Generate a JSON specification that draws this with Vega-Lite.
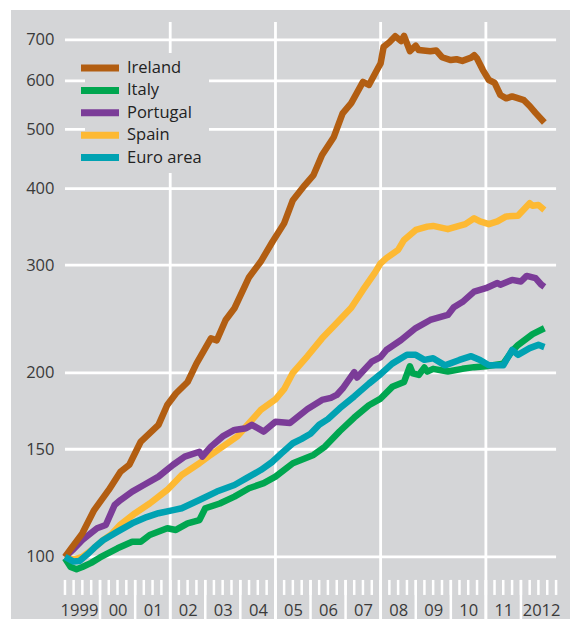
{
  "$schema": "https://vega.github.io/schema/vega-lite/v6.json",
  "width": 559,
  "height": 609,
  "autosize": {"type": "none"},
  "padding": {"left": 11, "top": 10, "right": 0, "bottom": 0},
  "background": "white",
  "config": {"view": {"fill": "#d4d5d7", "stroke": null}, "font": "Open Sans"},
  "datasets": {
    "hgrid": [{"v": 100}, {"v": 150}, {"v": 200}, {"v": 300}, {"v": 400}, {"v": 500}, {"v": 600}, {"v": 700}],
    "vgrid": [{"d": "2002-01-01"}, {"d": "2005-01-01"}, {"d": "2008-01-01"}, {"d": "2011-01-01"}],
    "yticks": [{"d": "2000-01-01"}, {"d": "2001-01-01"}, {"d": "2002-01-01"}, {"d": "2003-01-01"}, {"d": "2004-01-01"}, {"d": "2005-01-01"}, {"d": "2006-01-01"}, {"d": "2007-01-01"}, {"d": "2008-01-01"}, {"d": "2009-01-01"}, {"d": "2010-01-01"}, {"d": "2011-01-01"}, {"d": "2012-01-01"}],
    "qticks": [
      {"d": "1999-01-01"}, {"d": "1999-04-01"}, {"d": "1999-07-01"}, {"d": "1999-10-01"},
      {"d": "2000-01-01"}, {"d": "2000-04-01"}, {"d": "2000-07-01"}, {"d": "2000-10-01"},
      {"d": "2001-01-01"}, {"d": "2001-04-01"}, {"d": "2001-07-01"}, {"d": "2001-10-01"},
      {"d": "2002-01-01"}, {"d": "2002-04-01"}, {"d": "2002-07-01"}, {"d": "2002-10-01"},
      {"d": "2003-01-01"}, {"d": "2003-04-01"}, {"d": "2003-07-01"}, {"d": "2003-10-01"},
      {"d": "2004-01-01"}, {"d": "2004-04-01"}, {"d": "2004-07-01"}, {"d": "2004-10-01"},
      {"d": "2005-01-01"}, {"d": "2005-04-01"}, {"d": "2005-07-01"}, {"d": "2005-10-01"},
      {"d": "2006-01-01"}, {"d": "2006-04-01"}, {"d": "2006-07-01"}, {"d": "2006-10-01"},
      {"d": "2007-01-01"}, {"d": "2007-04-01"}, {"d": "2007-07-01"}, {"d": "2007-10-01"},
      {"d": "2008-01-01"}, {"d": "2008-04-01"}, {"d": "2008-07-01"}, {"d": "2008-10-01"},
      {"d": "2009-01-01"}, {"d": "2009-04-01"}, {"d": "2009-07-01"}, {"d": "2009-10-01"},
      {"d": "2010-01-01"}, {"d": "2010-04-01"}, {"d": "2010-07-01"}, {"d": "2010-10-01"},
      {"d": "2011-01-01"}, {"d": "2011-04-01"}, {"d": "2011-07-01"}, {"d": "2011-10-01"},
      {"d": "2012-01-01"}, {"d": "2012-04-01"}, {"d": "2012-07-01"}, {"d": "2012-10-01"},
      {"d": "2013-01-01"}
    ],
    "prices": [
      {"country": "Spain", "date": "1999-01-01", "value": 100},
      {"country": "Spain", "date": "1999-04-01", "value": 99},
      {"country": "Spain", "date": "1999-07-01", "value": 100},
      {"country": "Spain", "date": "1999-10-01", "value": 102.5},
      {"country": "Spain", "date": "2000-02-01", "value": 106.5},
      {"country": "Spain", "date": "2000-05-01", "value": 109},
      {"country": "Spain", "date": "2000-08-01", "value": 113},
      {"country": "Spain", "date": "2001-01-01", "value": 117.9},
      {"country": "Spain", "date": "2001-06-01", "value": 122.3},
      {"country": "Spain", "date": "2001-12-01", "value": 128.7},
      {"country": "Spain", "date": "2002-05-01", "value": 136.1},
      {"country": "Spain", "date": "2002-11-01", "value": 142.3},
      {"country": "Spain", "date": "2003-02-01", "value": 145.9},
      {"country": "Spain", "date": "2003-07-01", "value": 151.5},
      {"country": "Spain", "date": "2003-12-01", "value": 157.4},
      {"country": "Spain", "date": "2004-03-01", "value": 163.4},
      {"country": "Spain", "date": "2004-08-01", "value": 173.9},
      {"country": "Spain", "date": "2005-01-01", "value": 181},
      {"country": "Spain", "date": "2005-04-01", "value": 188},
      {"country": "Spain", "date": "2005-07-01", "value": 200},
      {"country": "Spain", "date": "2005-12-01", "value": 213},
      {"country": "Spain", "date": "2006-05-01", "value": 227.7},
      {"country": "Spain", "date": "2006-10-01", "value": 241.3},
      {"country": "Spain", "date": "2007-03-01", "value": 255.4},
      {"country": "Spain", "date": "2007-07-01", "value": 273.2},
      {"country": "Spain", "date": "2007-11-01", "value": 291.3},
      {"country": "Spain", "date": "2008-01-01", "value": 302},
      {"country": "Spain", "date": "2008-03-01", "value": 308},
      {"country": "Spain", "date": "2008-07-01", "value": 317.6},
      {"country": "Spain", "date": "2008-09-01", "value": 329.8},
      {"country": "Spain", "date": "2009-01-01", "value": 342.4},
      {"country": "Spain", "date": "2009-05-01", "value": 346.7},
      {"country": "Spain", "date": "2009-07-01", "value": 347.6},
      {"country": "Spain", "date": "2009-12-01", "value": 343.4},
      {"country": "Spain", "date": "2010-03-01", "value": 346.7},
      {"country": "Spain", "date": "2010-06-01", "value": 350},
      {"country": "Spain", "date": "2010-09-01", "value": 357.7},
      {"country": "Spain", "date": "2010-11-01", "value": 353.6},
      {"country": "Spain", "date": "2011-02-01", "value": 350},
      {"country": "Spain", "date": "2011-05-01", "value": 353.6},
      {"country": "Spain", "date": "2011-08-01", "value": 360.3},
      {"country": "Spain", "date": "2011-12-01", "value": 361.2},
      {"country": "Spain", "date": "2012-04-01", "value": 378.6},
      {"country": "Spain", "date": "2012-05-01", "value": 375},
      {"country": "Spain", "date": "2012-07-01", "value": 376},
      {"country": "Spain", "date": "2012-09-01", "value": 369.2},
      {"country": "Italy", "date": "1999-01-01", "value": 99.5},
      {"country": "Italy", "date": "1999-03-01", "value": 96.3},
      {"country": "Italy", "date": "1999-05-01", "value": 95.5},
      {"country": "Italy", "date": "1999-07-01", "value": 96.3},
      {"country": "Italy", "date": "1999-10-01", "value": 97.8},
      {"country": "Italy", "date": "2000-01-01", "value": 99.8},
      {"country": "Italy", "date": "2000-07-01", "value": 103.3},
      {"country": "Italy", "date": "2000-12-01", "value": 105.9},
      {"country": "Italy", "date": "2001-03-01", "value": 105.9},
      {"country": "Italy", "date": "2001-06-01", "value": 108.6},
      {"country": "Italy", "date": "2001-12-01", "value": 111.4},
      {"country": "Italy", "date": "2002-03-01", "value": 110.7},
      {"country": "Italy", "date": "2002-07-01", "value": 113.5},
      {"country": "Italy", "date": "2002-11-01", "value": 114.9},
      {"country": "Italy", "date": "2003-01-01", "value": 120.1},
      {"country": "Italy", "date": "2003-06-01", "value": 122.3},
      {"country": "Italy", "date": "2003-11-01", "value": 125.5},
      {"country": "Italy", "date": "2004-04-01", "value": 129.5},
      {"country": "Italy", "date": "2004-09-01", "value": 132},
      {"country": "Italy", "date": "2005-01-01", "value": 135.3},
      {"country": "Italy", "date": "2005-07-01", "value": 142.3},
      {"country": "Italy", "date": "2006-02-01", "value": 146.8},
      {"country": "Italy", "date": "2006-06-01", "value": 151.5},
      {"country": "Italy", "date": "2006-11-01", "value": 160.5},
      {"country": "Italy", "date": "2007-04-01", "value": 169},
      {"country": "Italy", "date": "2007-09-01", "value": 177},
      {"country": "Italy", "date": "2008-01-01", "value": 181.5},
      {"country": "Italy", "date": "2008-05-01", "value": 189.7},
      {"country": "Italy", "date": "2008-09-01", "value": 193.2},
      {"country": "Italy", "date": "2008-11-01", "value": 205},
      {"country": "Italy", "date": "2008-12-01", "value": 199.5},
      {"country": "Italy", "date": "2009-02-01", "value": 198.4},
      {"country": "Italy", "date": "2009-04-01", "value": 204},
      {"country": "Italy", "date": "2009-05-01", "value": 200.9},
      {"country": "Italy", "date": "2009-07-01", "value": 203},
      {"country": "Italy", "date": "2009-12-01", "value": 201},
      {"country": "Italy", "date": "2010-05-01", "value": 203},
      {"country": "Italy", "date": "2010-09-01", "value": 204.3},
      {"country": "Italy", "date": "2011-01-01", "value": 205},
      {"country": "Italy", "date": "2011-07-01", "value": 207},
      {"country": "Italy", "date": "2011-10-01", "value": 217},
      {"country": "Italy", "date": "2011-12-01", "value": 222},
      {"country": "Italy", "date": "2012-05-01", "value": 231.4},
      {"country": "Italy", "date": "2012-09-01", "value": 236.5},
      {"country": "Portugal", "date": "1999-01-01", "value": 100},
      {"country": "Portugal", "date": "1999-04-01", "value": 103},
      {"country": "Portugal", "date": "1999-07-01", "value": 106.6},
      {"country": "Portugal", "date": "1999-12-01", "value": 111.4},
      {"country": "Portugal", "date": "2000-03-01", "value": 112.8},
      {"country": "Portugal", "date": "2000-06-01", "value": 121.6},
      {"country": "Portugal", "date": "2000-08-01", "value": 123.9},
      {"country": "Portugal", "date": "2000-12-01", "value": 127.9},
      {"country": "Portugal", "date": "2001-04-01", "value": 131.1},
      {"country": "Portugal", "date": "2001-09-01", "value": 135.3},
      {"country": "Portugal", "date": "2002-02-01", "value": 141.5},
      {"country": "Portugal", "date": "2002-06-01", "value": 145.9},
      {"country": "Portugal", "date": "2002-11-01", "value": 148.6},
      {"country": "Portugal", "date": "2002-12-01", "value": 145.9},
      {"country": "Portugal", "date": "2003-03-01", "value": 151.5},
      {"country": "Portugal", "date": "2003-07-01", "value": 157.4},
      {"country": "Portugal", "date": "2003-11-01", "value": 161.3},
      {"country": "Portugal", "date": "2004-03-01", "value": 162.3},
      {"country": "Portugal", "date": "2004-05-01", "value": 164.4},
      {"country": "Portugal", "date": "2004-09-01", "value": 160.3},
      {"country": "Portugal", "date": "2005-01-01", "value": 166.4},
      {"country": "Portugal", "date": "2005-06-01", "value": 165.6},
      {"country": "Portugal", "date": "2005-12-01", "value": 174.5},
      {"country": "Portugal", "date": "2006-05-01", "value": 180.6},
      {"country": "Portugal", "date": "2006-08-01", "value": 182},
      {"country": "Portugal", "date": "2006-10-01", "value": 184},
      {"country": "Portugal", "date": "2006-12-01", "value": 188.5},
      {"country": "Portugal", "date": "2007-04-01", "value": 200.5},
      {"country": "Portugal", "date": "2007-05-01", "value": 196.5},
      {"country": "Portugal", "date": "2007-10-01", "value": 208.6},
      {"country": "Portugal", "date": "2008-01-01", "value": 212.2},
      {"country": "Portugal", "date": "2008-03-01", "value": 217.9},
      {"country": "Portugal", "date": "2008-08-01", "value": 226.3},
      {"country": "Portugal", "date": "2009-01-01", "value": 236.7},
      {"country": "Portugal", "date": "2009-06-01", "value": 244},
      {"country": "Portugal", "date": "2009-12-01", "value": 248.7},
      {"country": "Portugal", "date": "2010-02-01", "value": 256},
      {"country": "Portugal", "date": "2010-05-01", "value": 261},
      {"country": "Portugal", "date": "2010-09-01", "value": 271.5},
      {"country": "Portugal", "date": "2011-01-01", "value": 275},
      {"country": "Portugal", "date": "2011-05-01", "value": 280.5},
      {"country": "Portugal", "date": "2011-06-01", "value": 278.6},
      {"country": "Portugal", "date": "2011-10-01", "value": 283.7},
      {"country": "Portugal", "date": "2012-01-01", "value": 282},
      {"country": "Portugal", "date": "2012-03-01", "value": 288},
      {"country": "Portugal", "date": "2012-06-01", "value": 285.6},
      {"country": "Portugal", "date": "2012-08-01", "value": 278.6},
      {"country": "Portugal", "date": "2012-09-01", "value": 276.3},
      {"country": "Ireland", "date": "1999-01-01", "value": 100},
      {"country": "Ireland", "date": "1999-03-01", "value": 103},
      {"country": "Ireland", "date": "1999-07-01", "value": 109.3},
      {"country": "Ireland", "date": "1999-11-01", "value": 119.3},
      {"country": "Ireland", "date": "2000-04-01", "value": 128.7},
      {"country": "Ireland", "date": "2000-08-01", "value": 137.8},
      {"country": "Ireland", "date": "2000-11-01", "value": 141.5},
      {"country": "Ireland", "date": "2001-03-01", "value": 154.4},
      {"country": "Ireland", "date": "2001-09-01", "value": 164.4},
      {"country": "Ireland", "date": "2001-12-01", "value": 177.2},
      {"country": "Ireland", "date": "2002-03-01", "value": 185},
      {"country": "Ireland", "date": "2002-07-01", "value": 193.2},
      {"country": "Ireland", "date": "2002-10-01", "value": 207},
      {"country": "Ireland", "date": "2003-03-01", "value": 227.7},
      {"country": "Ireland", "date": "2003-05-01", "value": 226},
      {"country": "Ireland", "date": "2003-08-01", "value": 244},
      {"country": "Ireland", "date": "2003-11-01", "value": 255},
      {"country": "Ireland", "date": "2004-04-01", "value": 286.6},
      {"country": "Ireland", "date": "2004-08-01", "value": 304},
      {"country": "Ireland", "date": "2004-12-01", "value": 327.5},
      {"country": "Ireland", "date": "2005-04-01", "value": 351},
      {"country": "Ireland", "date": "2005-07-01", "value": 383},
      {"country": "Ireland", "date": "2005-11-01", "value": 405},
      {"country": "Ireland", "date": "2006-02-01", "value": 421},
      {"country": "Ireland", "date": "2006-05-01", "value": 454},
      {"country": "Ireland", "date": "2006-09-01", "value": 486},
      {"country": "Ireland", "date": "2006-12-01", "value": 531},
      {"country": "Ireland", "date": "2007-03-01", "value": 552},
      {"country": "Ireland", "date": "2007-07-01", "value": 598},
      {"country": "Ireland", "date": "2007-09-01", "value": 591},
      {"country": "Ireland", "date": "2007-12-01", "value": 628},
      {"country": "Ireland", "date": "2008-01-01", "value": 641},
      {"country": "Ireland", "date": "2008-02-01", "value": 682},
      {"country": "Ireland", "date": "2008-04-01", "value": 694},
      {"country": "Ireland", "date": "2008-06-01", "value": 710},
      {"country": "Ireland", "date": "2008-08-01", "value": 697},
      {"country": "Ireland", "date": "2008-09-01", "value": 711},
      {"country": "Ireland", "date": "2008-11-01", "value": 671},
      {"country": "Ireland", "date": "2009-01-01", "value": 685},
      {"country": "Ireland", "date": "2009-02-01", "value": 674},
      {"country": "Ireland", "date": "2009-06-01", "value": 671},
      {"country": "Ireland", "date": "2009-08-01", "value": 673},
      {"country": "Ireland", "date": "2009-10-01", "value": 656},
      {"country": "Ireland", "date": "2010-01-01", "value": 649},
      {"country": "Ireland", "date": "2010-03-01", "value": 651},
      {"country": "Ireland", "date": "2010-05-01", "value": 647},
      {"country": "Ireland", "date": "2010-08-01", "value": 655},
      {"country": "Ireland", "date": "2010-09-01", "value": 661},
      {"country": "Ireland", "date": "2010-10-01", "value": 653},
      {"country": "Ireland", "date": "2010-12-01", "value": 625},
      {"country": "Ireland", "date": "2011-02-01", "value": 602},
      {"country": "Ireland", "date": "2011-04-01", "value": 596},
      {"country": "Ireland", "date": "2011-06-01", "value": 569},
      {"country": "Ireland", "date": "2011-08-01", "value": 562},
      {"country": "Ireland", "date": "2011-10-01", "value": 566},
      {"country": "Ireland", "date": "2012-02-01", "value": 558},
      {"country": "Ireland", "date": "2012-04-01", "value": 546},
      {"country": "Ireland", "date": "2012-06-01", "value": 532},
      {"country": "Ireland", "date": "2012-09-01", "value": 513},
      {"country": "Euro area", "date": "1999-01-01", "value": 100},
      {"country": "Euro area", "date": "1999-04-01", "value": 98.3},
      {"country": "Euro area", "date": "1999-06-01", "value": 98.5},
      {"country": "Euro area", "date": "1999-09-01", "value": 101.3},
      {"country": "Euro area", "date": "1999-11-01", "value": 103.5},
      {"country": "Euro area", "date": "2000-02-01", "value": 106.5},
      {"country": "Euro area", "date": "2000-07-01", "value": 110},
      {"country": "Euro area", "date": "2000-12-01", "value": 113.5},
      {"country": "Euro area", "date": "2001-05-01", "value": 116.2},
      {"country": "Euro area", "date": "2001-09-01", "value": 117.9},
      {"country": "Euro area", "date": "2002-02-01", "value": 119.3},
      {"country": "Euro area", "date": "2002-05-01", "value": 120.1},
      {"country": "Euro area", "date": "2002-11-01", "value": 123.9},
      {"country": "Euro area", "date": "2003-05-01", "value": 127.9},
      {"country": "Euro area", "date": "2003-11-01", "value": 131.1},
      {"country": "Euro area", "date": "2004-03-01", "value": 134.4},
      {"country": "Euro area", "date": "2004-08-01", "value": 138.7},
      {"country": "Euro area", "date": "2004-12-01", "value": 143.1},
      {"country": "Euro area", "date": "2005-03-01", "value": 147.5},
      {"country": "Euro area", "date": "2005-07-01", "value": 153.4},
      {"country": "Euro area", "date": "2005-10-01", "value": 156},
      {"country": "Euro area", "date": "2006-01-01", "value": 159},
      {"country": "Euro area", "date": "2006-04-01", "value": 164.5},
      {"country": "Euro area", "date": "2006-07-01", "value": 168},
      {"country": "Euro area", "date": "2006-11-01", "value": 175},
      {"country": "Euro area", "date": "2007-04-01", "value": 183},
      {"country": "Euro area", "date": "2007-09-01", "value": 192},
      {"country": "Euro area", "date": "2008-01-01", "value": 199},
      {"country": "Euro area", "date": "2008-05-01", "value": 207},
      {"country": "Euro area", "date": "2008-10-01", "value": 214},
      {"country": "Euro area", "date": "2009-01-01", "value": 214},
      {"country": "Euro area", "date": "2009-04-01", "value": 210},
      {"country": "Euro area", "date": "2009-07-01", "value": 211.2},
      {"country": "Euro area", "date": "2009-11-01", "value": 205.7},
      {"country": "Euro area", "date": "2010-04-01", "value": 209.9},
      {"country": "Euro area", "date": "2010-08-01", "value": 212.9},
      {"country": "Euro area", "date": "2010-11-01", "value": 209.9},
      {"country": "Euro area", "date": "2011-02-01", "value": 205.7},
      {"country": "Euro area", "date": "2011-07-01", "value": 205.7},
      {"country": "Euro area", "date": "2011-10-01", "value": 217.9},
      {"country": "Euro area", "date": "2011-12-01", "value": 214},
      {"country": "Euro area", "date": "2012-04-01", "value": 219.5},
      {"country": "Euro area", "date": "2012-07-01", "value": 222.2},
      {"country": "Euro area", "date": "2012-09-01", "value": 220.3}
    ]
  },
  "layer": [
    {
      "data": {"name": "hgrid"},
      "mark": {"type": "rule", "color": "white", "strokeWidth": 2.8},
      "encoding": {
        "x": {"datum": {"year": 1999, "month": 1, "date": 1, "utc": true}, "type": "temporal", "title": null,
              "scale": {"domain": [{"year": 1997, "month": 6, "date": 18, "utc": true}, {"year": 2013, "month": 5, "date": 26, "utc": true}]}},
        "x2": {"datum": {"year": 2013, "month": 1, "date": 1, "utc": true}},
        "y": {"field": "v", "type": "quantitative", "title": null,
              "scale": {"type": "log", "domain": [79.17, 783.6], "nice": false, "zero": false}}
      }
    },
    {
      "data": {"name": "vgrid"},
      "mark": {"type": "rule", "color": "white", "strokeWidth": 2.8},
      "encoding": {
        "x": {"field": "d", "type": "temporal", "title": null},
        "y": {"datum": 749, "type": "quantitative", "title": null},
        "y2": {"datum": 79.17}
      }
    },
    {
      "data": {"name": "qticks"},
      "mark": {"type": "rule", "color": "white", "strokeWidth": 2.5},
      "encoding": {
        "x": {"field": "d", "type": "temporal", "title": null},
        "y": {"datum": 91.71, "type": "quantitative", "title": null},
        "y2": {"datum": 86.67}
      }
    },
    {
      "data": {"name": "yticks"},
      "mark": {"type": "rule", "color": "white", "strokeWidth": 2.5},
      "encoding": {
        "x": {"field": "d", "type": "temporal", "title": null},
        "y": {"datum": 91.71, "type": "quantitative", "title": null},
        "y2": {"datum": 79.17}
      }
    },
    {
      "data": {"name": "prices"},
      "mark": {"type": "line", "strokeWidth": 6.5, "strokeJoin": "round"},
      "encoding": {
        "x": {
          "field": "date", "type": "temporal",
          "scale": {"domain": [{"year": 1997, "month": 6, "date": 18, "utc": true}, {"year": 2013, "month": 5, "date": 26, "utc": true}]},
          "axis": {
            "title": null, "domain": false, "ticks": false, "tickSize": 0, "grid": false, "zindex": 1,
            "values": [
              {"year": 1999, "month": 7, "date": 2, "utc": true}, {"year": 2000, "month": 7, "date": 2, "utc": true},
              {"year": 2001, "month": 7, "date": 2, "utc": true}, {"year": 2002, "month": 7, "date": 2, "utc": true},
              {"year": 2003, "month": 7, "date": 2, "utc": true}, {"year": 2004, "month": 7, "date": 2, "utc": true},
              {"year": 2005, "month": 7, "date": 2, "utc": true}, {"year": 2006, "month": 7, "date": 2, "utc": true},
              {"year": 2007, "month": 7, "date": 2, "utc": true}, {"year": 2008, "month": 7, "date": 2, "utc": true},
              {"year": 2009, "month": 7, "date": 2, "utc": true}, {"year": 2010, "month": 7, "date": 2, "utc": true},
              {"year": 2011, "month": 7, "date": 2, "utc": true}, {"year": 2012, "month": 7, "date": 2, "utc": true}
            ],
            "labelExpr": "utcFormat(datum.value, (utcyear(datum.value) == 1999 || utcyear(datum.value) == 2012) ? '%Y' : '%y')",
            "labelOffset": {"condition": [{"test": "utcyear(datum.value) == 1999", "value": -3.5}, {"test": "utcyear(datum.value) == 2012", "value": 2.6}], "value": 0},
            "labelPadding": -4, "labelBaseline": "alphabetic", "labelFontSize": 16.5, "labelFont": "Open Sans",
            "labelColor": "#3a3a3a", "labelOverlap": false, "labelFlush": false
          }
        },
        "y": {
          "field": "value", "type": "quantitative",
          "scale": {"type": "log", "domain": [79.17, 783.6], "nice": false, "zero": false},
          "axis": {
            "title": null, "domain": false, "ticks": false, "tickSize": 0, "grid": false,
            "values": [100, 150, 200, 300, 400, 500, 600, 700], "format": "d",
            "offset": -43, "labelPadding": 0, "labelFontSize": 16.5, "labelFont": "Open Sans",
            "labelColor": "#3a3a3a", "labelOverlap": false, "labelBaseline": "middle"
          }
        },
        "color": {
          "field": "country", "type": "nominal",
          "scale": {"domain": ["Ireland", "Italy", "Portugal", "Spain", "Euro area"],
                    "range": ["#b25e12", "#00a650", "#7b3c98", "#fdb933", "#00a2b2"]},
          "legend": {
            "orient": "none", "legendX": 74, "legendY": 43, "title": null, "padding": 6.75,
            "fillColor": "#d4d5d7", "symbolType": "M-19,-3.5H19V3.5H-19Z", "symbolSize": 4, "symbolStrokeWidth": 0,
            "labelFontSize": 16.5, "labelFont": "Open Sans", "labelColor": "#222222", "labelOffset": 18.75,
            "rowPadding": 5.4, "labelLimit": 300,
            "encode": {"symbols": {"update": {"fill": {"scale": "color", "field": "value"}, "stroke": {"value": "transparent"}, "strokeWidth": {"value": 0}}}}
          }
        }
      }
    }
  ]
}
